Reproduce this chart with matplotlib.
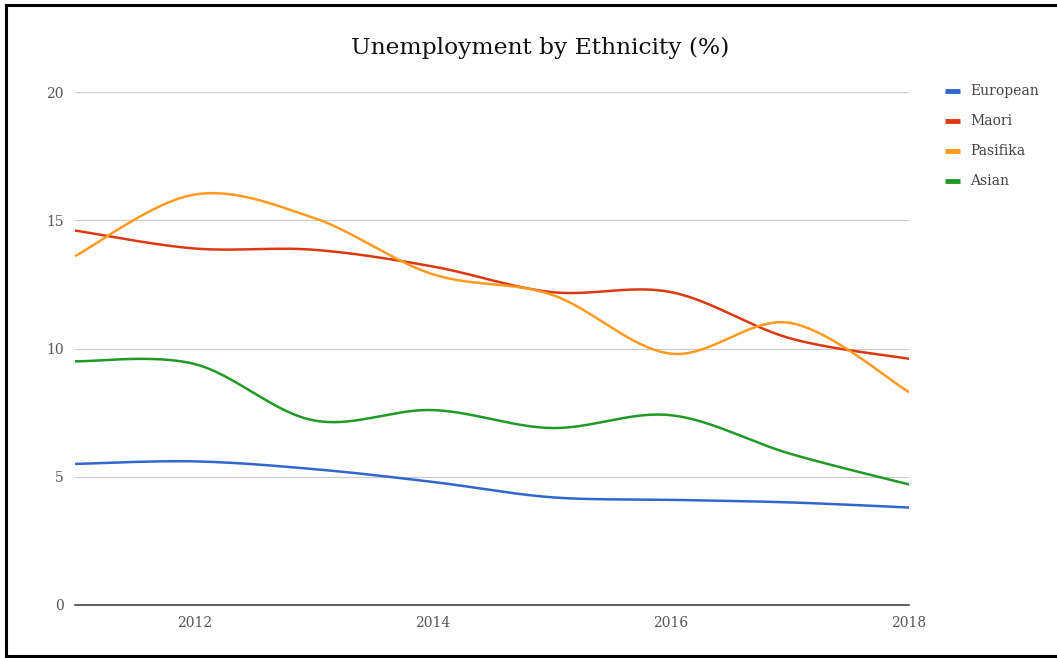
import numpy as np
import matplotlib
matplotlib.use("Agg")
import matplotlib.pyplot as plt
from matplotlib.lines import Line2D

years = [2011, 2012, 2013, 2014, 2015, 2016, 2017, 2018]
european = [5.5, 5.6, 5.3, 4.8, 4.2, 4.1, 4.0, 3.8]
maori = [14.6, 13.9, 13.85, 13.2, 12.2, 12.2, 10.4, 9.6]
pasifika = [13.6, 16.0, 15.1, 12.9, 12.1, 9.8, 11.0, 8.3]
asian = [9.5, 9.4, 7.2, 7.6, 6.9, 7.4, 5.9, 4.7]

series_names = ["European", "Maori", "Pasifika", "Asian"]
colors = ["#3366cc", "#dc3912", "#ff9a1f", "#1f9a26"]


def smooth(x, y, steps=40):
    # catmull-rom spline through the yearly points, ends repeated
    x = np.asarray(x, float)
    y = np.asarray(y, float)
    px = np.concatenate([[x[0]], x, [x[-1]]])
    py = np.concatenate([[y[0]], y, [y[-1]]])
    xs, ys = [], []
    t = np.linspace(0, 1, steps, endpoint=False)
    for i in range(1, len(px) - 2):
        for p, out in ((px, xs), (py, ys)):
            p0, p1, p2, p3 = p[i - 1], p[i], p[i + 1], p[i + 2]
            out.extend(0.5 * ((2 * p1) + (-p0 + p2) * t
                              + (2 * p0 - 5 * p1 + 4 * p2 - p3) * t ** 2
                              + (-p0 + 3 * p1 - 3 * p2 + p3) * t ** 3))
    xs.append(x[-1])
    ys.append(y[-1])
    return np.array(xs), np.array(ys)


serif = "DejaVu Serif"
fig = plt.figure(figsize=(10.57, 6.58), dpi=100)
ax = fig.add_axes([75 / 1057, 1 - 605 / 658, 834 / 1057, 513 / 658])

for name, vals, c in zip(series_names, [european, maori, pasifika, asian], colors):
    sx, sy = smooth(years, vals)
    ax.plot(sx, sy, color=c, lw=1.8, label=name, solid_capstyle="butt")

ax.set_xlim(2011, 2018)
ax.set_ylim(0, 20)
ax.set_yticks([0, 5, 10, 15, 20])
ax.set_xticks([2012, 2014, 2016, 2018])
for v in [5, 10, 15, 20]:
    ax.axhline(v, color="#cccccc", lw=0.9, zorder=0)
ax.axhline(0, color="#333333", lw=1.1, zorder=3, clip_on=False)
for s in ax.spines.values():
    s.set_visible(False)
ax.tick_params(length=0, labelsize=10, labelcolor="#555555", pad=8)
for lab in ax.get_xticklabels() + ax.get_yticklabels():
    lab.set_family(serif)

fig.text(540 / 1057, 1 - 48 / 658, "Unemployment by Ethnicity (%)", ha="center",
         va="center", fontsize=16.8, family=serif, color="#111111")

leg = ax.legend(loc="upper left", bbox_to_anchor=(1.028, 1.039), frameon=False,
                handlelength=1.1, handletextpad=0.75, labelspacing=1.15,
                prop={"family": serif, "size": 10})
for line in leg.get_lines():
    line.set_linewidth(3.5)
for t in leg.get_texts():
    t.set_color("#444444")

# page frame
W, H = 1057, 658
for xs, ys in [((6, 6), (5, 656)), ((6, W), (5, 5)), ((6, W), (656, 656))]:
    fig.add_artist(Line2D([x / W for x in xs], [1 - y / H for y in ys],
                          color="black", lw=2.2, transform=fig.transFigure))

fig.savefig("out.png", dpi=100)
